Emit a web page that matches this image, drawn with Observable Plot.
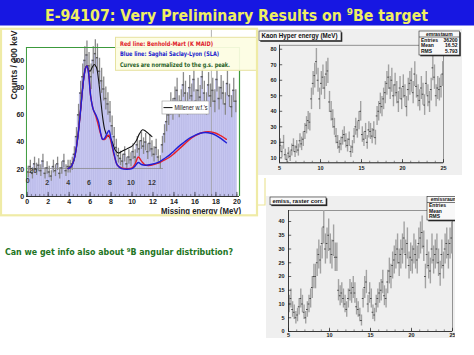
<!DOCTYPE html>
<html>
<head>
<meta charset="utf-8">
<script src="https://cdn.jsdelivr.net/npm/d3@7"></script>
<script src="https://cdn.jsdelivr.net/npm/@observablehq/plot@0.6"></script>
<style>
  html, body { margin: 0; padding: 0; background: #ffffff; }
  #page { position: relative; width: 474px; height: 355px; overflow: hidden; background: #ffffff; }
  #page svg { position: absolute; display: block; }
</style>
</head>
<body>
<div id="page"></div>
<script>
// ================= DATA =================
const slideTitle = "E-94107: Very Preliminary Results on ";
const slideTitleSup = "9";
const slideTitleEnd = "Be target";
const questionPre = "Can we get info also about ";
const questionSup = "9";
const questionEnd = "B angular distribution?";

// Left panel: counts per 200 keV, bins from 0 to 20 MeV
const mainBinWidth = 0.2;
const mainCounts = [
  18, 22, 17, 24, 20,   23, 19, 26, 17, 21,   18, 15, 22, 19, 24,   17, 21, 26, 19, 22,
  22, 24, 31, 44, 60,   76, 88, 100, 104, 96, 88, 100, 105, 102, 92, 85, 79, 72, 68, 62,
  52, 44, 36, 30, 28,   26, 31, 24, 29, 27,   33, 29, 38, 35, 41,   37, 40, 33, 39, 35,
  31, 36, 29, 25, 38,   46, 55, 60, 68, 64,   72, 78, 66, 70, 82,   76, 68, 80, 74, 86,
  70, 78, 73, 88, 76,   68, 82, 74, 78, 70,   86, 72, 80, 76, 68,   83, 74, 66, 78, 70
];
const mainXTicks = [0, 2, 4, 6, 8, 10, 12, 14, 16, 18, 20];
const mainYTicks = [0, 20, 40, 60, 80, 100];
const overlayXTicks = [0, 2, 4, 6, 8, 10, 12];
const overlayYTicks = [20];
const mainXLabel = "Missing energy (MeV)";
const mainYLabel = "Counts / 200 keV";

const redE   = [3.9, 4.2, 4.5, 4.8, 5.1, 5.35, 5.55, 5.7, 5.85, 6.05, 6.3, 6.55, 6.8, 7.0, 7.2, 7.4, 7.6, 7.8, 8.0, 8.3, 8.6, 9.0, 9.5, 10.0, 10.3, 10.6, 10.9, 11.3, 11.8, 12.5, 13.0, 13.5, 14.0, 14.5, 15.0, 15.5, 16.0, 16.5, 17.0, 17.5, 18.0, 18.5, 19.0];
const redV   = [20.5, 22, 28, 42, 64, 84, 94, 96, 91, 74, 64, 59, 52, 46, 42, 42, 44, 45, 40, 30, 23, 21, 20.5, 21, 24, 29, 26, 23, 23, 24.5, 26.5, 28.5, 31.5, 35, 38.5, 42, 44.5, 46.5, 47.5, 47.5, 46.5, 44.5, 42];
const blueE  = redE;
const blueV  = [20.5, 22, 28, 42, 64, 84, 94, 96, 91, 74, 64, 60, 55, 47, 42, 43, 46, 48.5, 42, 31, 23, 20.5, 20, 20.5, 22.5, 25, 23.5, 23, 23.5, 25, 27.5, 30, 33.5, 37, 40, 43, 45, 46.5, 47, 46.5, 45, 42.5, 39.5];
const blackE = [3.9, 4.2, 4.5, 4.8, 5.1, 5.35, 5.55, 5.7, 5.85, 6.0, 6.2, 6.4, 6.6, 6.8, 7.0, 7.2, 7.4, 7.6, 7.8, 8.0, 8.2, 8.4, 8.7, 9.0, 9.5, 10.0, 10.4, 10.7, 11.0, 11.3, 11.6, 11.9];
const blackV = [20.5, 22, 28, 42, 64, 84, 94, 96, 93, 92, 95, 97, 95, 86, 72, 58, 49, 45, 44, 42, 38, 34, 32, 33, 35, 37, 41, 46, 49, 48, 46, 44];

const legendLines = ["Red line: Benhold-Mart (K MAID)", "Blue line: Saghai Saclay-Lyon (SLA)", "Curves are normalized to the g.s. peak."];
const legendColors = ["#e0202a", "#2222cc", "#1f5f1f"];
const millenerLabel = "Millener w.f.'s";

// Top right: Kaon Hyper energy, bins of 0.2 MeV from 5 to 25
const kaonTitle = "Kaon Hyper energy (MeV)";
const kaonStatsName = "emrastaum";
const kaonStatsRows = [["Entries", "36200"], ["Mean", "16.52"], ["RMS", "5.793"]];
const kaonStart = 5, kaonBinWidth = 0.2;
const kaonCounts = [
  18, 14, 20, 12, 9,    13, 11, 15, 18, 14,   17, 15, 21, 19, 22,   27, 31, 34, 33, 48,
  58, 63, 72, 60, 48,   58, 62, 55, 64, 66,   46, 40, 35, 30, 24,   20, 17, 19, 23, 25,
  21, 18, 22, 14, 17,   24, 30, 28, 34, 40,   25, 22, 27, 20, 28,   27, 24, 28, 23, 37,
  40, 45, 43, 48, 52,   58, 62, 55, 60, 50,   57, 52, 46, 55, 48,   56, 50, 43, 54, 58,
  60, 52, 64, 56, 50,   47, 55, 51, 44, 58,   50, 46, 54, 68, 62,   50, 55, 54, 56, 64
];
const kaonXTicks = [5, 10, 15, 20, 25];
const kaonYTicks = [10, 20, 30, 40, 50, 60, 70, 80];

// Bottom right: emiss, raster corr., bins of 0.2 MeV from 5 to 25
const emissTitle = "emiss, raster corr.";
const emissStatsName = "emissraum";
const emissStatsRows = [["Entries", "1"], ["Mean", ""], ["RMS", ""]];
const emissStart = 5, emissBinWidth = 0.2;
const emissCounts = [
  10, 12, 8, 7, 5,      6, 9, 12, 10, 7,      5, 8, 10, 12, 16,     20, 20, 25, 28, 26,
  32, 38, 30, 32, 35,   30, 28, 33, 27, 27,   15, 13, 14, 12, 10,   8, 12, 15, 14, 16,
  14, 9, 8, 6, 4,       12, 16, 18, 10, 14,   12, 7, 6, 10, 12,     14, 15, 18, 13, 12,
  18, 22, 20, 24, 26,   28, 30, 25, 28, 30,   34, 28, 32, 24, 27,   26, 30, 28, 26, 32,
  34, 36, 31, 20, 28,   24, 22, 30, 26, 28,   30, 25, 21, 28, 24,   30, 32, 28, 32, 34
];
const emissXTicks = [5, 10, 15, 20, 25];
const emissYTicks = [0, 5, 10, 15, 20, 25, 30, 35, 40];

// ================= DRAWING =================
const FONT = "'Liberation Sans', Arial, Helvetica, sans-serif";
const CFONT = "'DejaVu Sans', Verdana, sans-serif";
const page = document.getElementById("page");

function place(svg, left, top, z) {
  svg.style.position = "absolute";
  svg.style.left = left + "px";
  svg.style.top = top + "px";
  if (z != null) svg.style.zIndex = z;
  page.appendChild(svg);
}
function txt(g, x, y, s, o = {}) {
  const t = g.append("text").attr("x", x).attr("y", y)
    .attr("text-anchor", o.anchor || "start")
    .attr("font-family", o.family || FONT)
    .attr("font-weight", o.weight || "bold")
    .attr("font-size", o.size || 6)
    .attr("fill", o.fill || "#111");
  if (o.len) t.attr("textLength", o.len).attr("lengthAdjust", "spacingAndGlyphs");
  if (s != null) t.text(s);
  return t;
}

// ---------- main (left) chart ----------
const mainData = mainCounts.map((c, i) => ({
  x1: i * mainBinWidth, x2: (i + 1) * mainBinWidth, xc: (i + 0.5) * mainBinWidth, c, e: Math.sqrt(c)
}));
const pts = (E, V) => E.map((x, i) => ({x, y: V[i]}));
const mainMinor = d3.range(0, 20.01, 0.4);
const GREEN = "#3c9a3c";

const mainPlot = Plot.plot({
  width: 258, height: 188,
  marginLeft: 26.7, marginRight: 19, marginTop: 19, marginBottom: 20,
  x: {domain: [0, 20.25]},
  y: {domain: [0, 109.5]},
  style: {background: "transparent", fontFamily: FONT, fontSize: "7px", fontWeight: "bold", color: "#222", overflow: "hidden"},
  marks: [
    Plot.rectY(mainData, {x1: "x1", x2: "x2", y: "c", fill: "#c6c6f0", stroke: "#b0b0e2", strokeWidth: 0.4}),
    Plot.ruleX([17.57], {y1: 0, y2: 125, stroke: "#a0a0a0", strokeWidth: 0.8}),
    Plot.ruleY([20.6], {x1: 0, x2: 13, stroke: "#8a8a8a", strokeWidth: 0.8}),
    Plot.ruleX(mainData, {x: "xc", y1: d => d.c - d.e, y2: d => d.c + d.e, stroke: "#8a8a8a", strokeWidth: 1.3}),
    Plot.ruleY(mainData, {y: "c", x1: "x1", x2: "x2", stroke: "#5c5c5c", strokeWidth: 1.4}),
    Plot.line(pts(blackE, blackV), {x: "x", y: "y", stroke: "#141414", strokeWidth: 1.1, curve: "catmull-rom"}),
    Plot.line(pts(redE, redV), {x: "x", y: "y", stroke: "#e8202a", strokeWidth: 1.4, curve: "catmull-rom"}),
    Plot.line(pts(blueE, blueV), {x: "x", y: "y", stroke: "#2020d6", strokeWidth: 1.4, curve: "catmull-rom"}),
    Plot.ruleX([-0.07], {y1: 0, y2: 109.5, stroke: GREEN, strokeWidth: 1}),
    Plot.ruleX([20.25], {y1: 0, y2: 109.5, stroke: GREEN, strokeWidth: 1.2}),
    Plot.ruleY([109.5], {x1: -0.07, x2: 20.25, stroke: GREEN, strokeWidth: 1}),
    Plot.ruleY([0], {x1: -0.07, x2: 20.25, stroke: "#333", strokeWidth: 1}),
    Plot.ruleX(mainMinor, {x: d => d, y1: 0, y2: 1.5, stroke: "#445", strokeWidth: 0.6}),
    Plot.ruleX(mainXTicks, {x: d => d, y1: 0, y2: 3, stroke: "#334", strokeWidth: 0.8}),
    Plot.axisX({ticks: mainXTicks, tickSize: 0, tickPadding: 3, label: null, fontSize: 7}),
    Plot.axisY({ticks: mainYTicks, tickSize: 0, tickPadding: 3, label: null, fontSize: 7}),
    Plot.text(overlayXTicks, {x: d => (d === 0 ? 0.05 : d - 0.1), y: d => (d === 0 ? 11.5 : 10), text: d => String(d), fill: "#3a3a3a", fontSize: 7}),
    Plot.text(overlayYTicks, {x: 0.2, y: d => d - 1.3, text: d => String(d), fill: "#3a3a3a", fontSize: 7, textAnchor: "start"})
  ]
});
{
  const g = d3.select(mainPlot);
  // axis titles
  txt(g, 0, 0, mainYLabel, {anchor: "middle", size: 8.5, fill: "#222", len: 69})
    .attr("x", null).attr("y", null)
    .attr("transform", "translate(16.5,37) rotate(-90)");
  txt(g, 161, 186, mainXLabel, {size: 8.5, fill: "#222", len: 80});
  // legend box
  g.append("rect").attr("x", 115.5).attr("y", 9.3).attr("width", 142).attr("height", 33)
    .attr("fill", "#fdfde2").attr("fill-opacity", 0.93).attr("stroke", "#e6e2a0").attr("stroke-width", 1);
  const lens = [93, 99, 110];
  legendLines.forEach((t, i) => {
    txt(g, 120, 17.6 + i * 10.6, t, {family: CFONT, size: 6.3, fill: legendColors[i], len: lens[i]});
  });
  // Millener box
  g.append("rect").attr("x", 162).attr("y", 73).attr("width", 47).attr("height", 13)
    .attr("fill", "#ffffff").attr("stroke", "#9a9a9a").attr("stroke-width", 0.6);
  g.append("line").attr("x1", 163.5).attr("x2", 172.5).attr("y1", 79.6).attr("y2", 79.6)
    .attr("stroke", "#111").attr("stroke-width", 1);
  txt(g, 174.5, 82, millenerLabel, {weight: "normal", size: 6.3, len: 33});
}
place(mainPlot, 0, 28, 1);

// ---------- ROOT style panels ----------
function rootBox(g, x, y, w, h) {
  g.append("rect").attr("x", x + 1.3).attr("y", y + 1.3).attr("width", w).attr("height", h).attr("fill", "#2a2a2a");
  g.append("rect").attr("x", x).attr("y", y).attr("width", w).attr("height", h)
    .attr("fill", "#f8f8f8").attr("stroke", "#222").attr("stroke-width", 0.6);
}

function rootPanel(o) {
  const data = o.counts.map((v, i) => ({
    a: o.start + i * o.bw, b: o.start + (i + 1) * o.bw, c: o.start + (i + 0.5) * o.bw, v, e: Math.sqrt(v)
  }));
  const [y0, y1] = o.yDomain;
  const [x0, x1] = o.xDomain;
  const pxY = (o.height - o.mt - o.mb) / (y1 - y0);
  const pxX = (o.width - o.ml - o.mr) / (x1 - x0);
  const xMinor = d3.range(x0, x1 + 0.01, 1);
  const svg = Plot.plot({
    width: o.width, height: o.height,
    marginLeft: o.ml, marginRight: o.mr, marginTop: o.mt, marginBottom: o.mb,
    x: {domain: o.xDomain}, y: {domain: o.yDomain},
    style: {background: "#efefef", fontFamily: FONT, fontSize: o.fs + "px", fontWeight: "bold", color: "#1a1a1a", overflow: "hidden"},
    marks: [
      Plot.frame({stroke: "#555", strokeWidth: 0.6}),
      Plot.ruleX(data, {x: "c", y1: d => Math.max(d.v - d.e, y0), y2: d => Math.min(d.v + d.e, y1), stroke: "#a2a2a2", strokeWidth: 1.4}),
      Plot.ruleY(data, {y: "v", x1: "a", x2: "b", stroke: "#4a4a4a", strokeWidth: 1}),
      Plot.ruleX(xMinor, {x: d => d, y1: y0, y2: y0 + 1.6 / pxY, stroke: "#222", strokeWidth: 0.5}),
      Plot.ruleX(o.xTicks, {x: d => d, y1: y0, y2: y0 + 3.2 / pxY, stroke: "#222", strokeWidth: 0.7}),
      Plot.ruleY(o.yTicks, {y: d => d, x1: x0, x2: x0 + 3.2 / pxX, stroke: "#222", strokeWidth: 0.7}),
      Plot.ruleY([y0], {stroke: "#222", strokeWidth: 0.8}),
      Plot.ruleX([x0], {stroke: "#222", strokeWidth: 0.8}),
      Plot.axisX({ticks: o.xTicks, tickSize: 0, tickPadding: o.xPad, label: null}),
      Plot.axisY({ticks: o.yTicks, tickSize: 0, tickPadding: o.yPad, label: null})
    ]
  });
  const g = d3.select(svg);
  const t = o.titleBox;
  rootBox(g, t.x, t.y, t.w, t.h);
  txt(g, t.x + 2.5, t.y + t.h - 2.2, o.title, {size: t.fs, len: t.tl});
  const s = o.statsBox;
  rootBox(g, s.x, s.y, s.w, s.h);
  txt(g, s.x + s.w / 2, s.y + 4.6, o.statsName, {anchor: "middle", size: 5});
  g.append("line").attr("x1", s.x).attr("x2", s.x + s.w).attr("y1", s.y + 6).attr("y2", s.y + 6)
    .attr("stroke", "#222").attr("stroke-width", 0.6);
  o.statsRows.forEach((r, i) => {
    const yy = s.y + 10.8 + i * 5.5;
    txt(g, s.x + 2, yy, r[0], {size: 5});
    if (r[1]) txt(g, s.x + s.w - 2, yy, r[1], {anchor: "end", size: 5});
  });
  return svg;
}

const kaonSvg = rootPanel({
  counts: kaonCounts, start: kaonStart, bw: kaonBinWidth,
  width: 204, height: 146, ml: 21, mr: 19, mt: 15.7, mb: 12.7,
  xDomain: [5, 25], yDomain: [6.8, 82.6], xTicks: kaonXTicks, yTicks: kaonYTicks,
  fs: 5.5, xPad: 3.5, yPad: 3,
  title: kaonTitle, titleBox: {x: 1, y: 2, w: 82, h: 9.5, fs: 6.8, tl: 76},
  statsName: kaonStatsName, statsRows: kaonStatsRows, statsBox: {x: 161, y: 2, w: 40.5, h: 24}
});
place(kaonSvg, 258, 29, 1);

const emissSvg = rootPanel({
  counts: emissCounts, start: emissStart, bw: emissBinWidth,
  width: 189, height: 142, ml: 22, mr: 3, mt: 14, mb: 7,
  xDomain: [5, 25], yDomain: [0, 44], xTicks: emissXTicks, yTicks: emissYTicks,
  fs: 5.5, xPad: 1.2, yPad: 4,
  title: emissTitle, titleBox: {x: 4, y: 1, w: 56, h: 7.8, fs: 6, tl: 51},
  statsName: emissStatsName, statsRows: emissStatsRows, statsBox: {x: 161, y: 0.5, w: 34, h: 23.5}
});
place(emissSvg, 266, 196, 1);

// ---------- slide decorations (title, frames, question) ----------
const deco = d3.create("svg").attr("width", 474).attr("height", 355)
  .style("pointer-events", "none");
deco.append("rect").attr("x", 0).attr("y", 0).attr("width", 474).attr("height", 25.5).attr("fill", "#1717e2");
{
  const tt = txt(deco, 45, 20.5, null, {family: CFONT, size: 15, fill: "#efef62", len: 383});
  tt.append("tspan").text(slideTitle);
  tt.append("tspan").attr("font-size", 9.5).attr("dy", -6).text(slideTitleSup);
  tt.append("tspan").attr("dy", 6).text(slideTitleEnd);
}
// left panel pale yellow frame
deco.append("rect").attr("x", 1).attr("y", 28.8).attr("width", 256).attr("height", 186.5)
  .attr("fill", "none").attr("stroke", "#efeba6").attr("stroke-width", 2.2);
// small yellow corner between right panels
deco.append("path").attr("d", "M258,205 L265,205 L265,178").attr("fill", "none")
  .attr("stroke", "#ece59a").attr("stroke-width", 1.2);
{
  const q = txt(deco, 5, 255, null, {family: CFONT, size: 8, fill: "#237523", len: 228});
  q.append("tspan").text(questionPre);
  q.append("tspan").attr("font-size", 5.5).attr("dy", -3).text(questionSup);
  q.append("tspan").attr("dy", 3).text(questionEnd);
}
place(deco.node(), 0, 0, 2);
</script>
</body>
</html>
